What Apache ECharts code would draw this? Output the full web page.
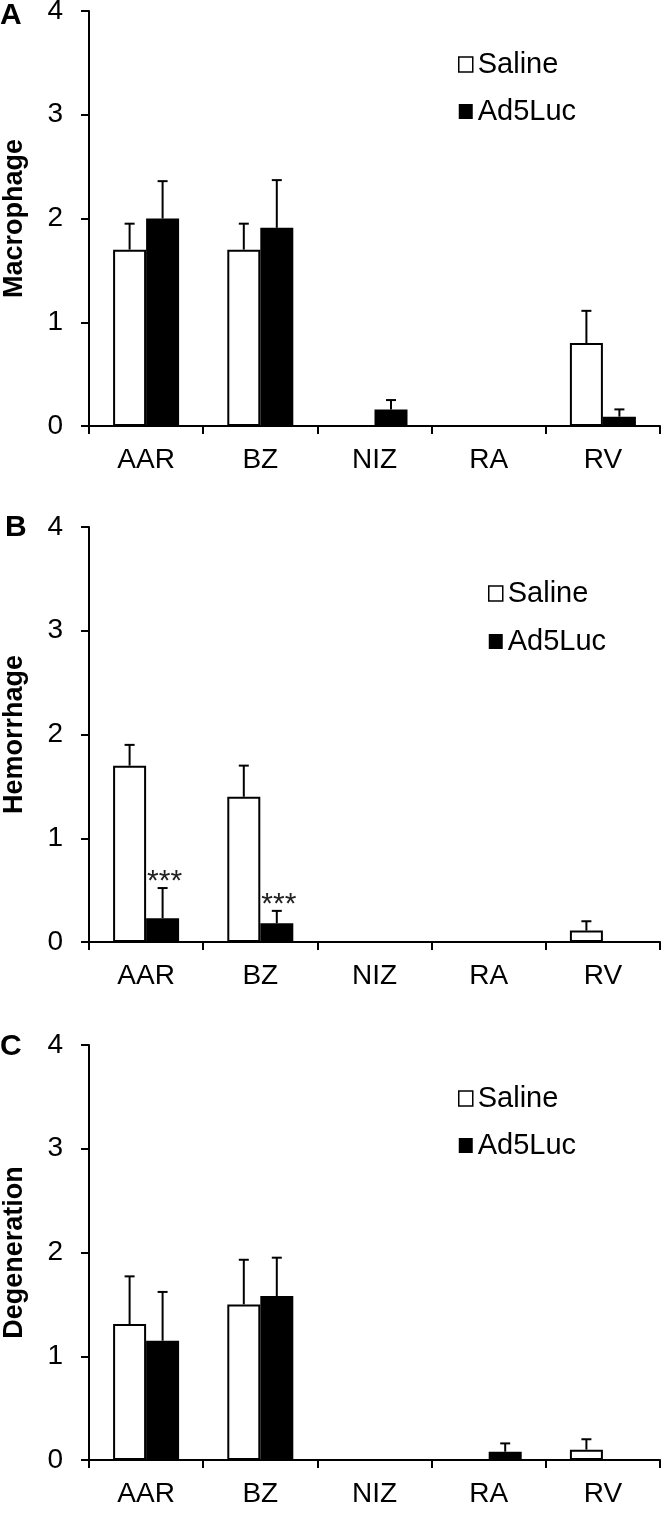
<!DOCTYPE html>
<html>
<head>
<meta charset="utf-8">
<script src="https://cdn.jsdelivr.net/npm/echarts@6/dist/echarts.min.js"></script>
<style>
  html, body { margin: 0; padding: 0; background: #fff; }
  #chart { width: 661px; height: 1513px; }
</style>
</head>
<body>
<div id="chart"></div>
<script>
// ---------- data ----------
const categories = ['AAR', 'BZ', 'NIZ', 'RA', 'RV'];
const seriesNames = ['Saline', 'Ad5Luc'];
const panelLetters = ['A', 'B', 'C'];
const panelTitles = ['Macrophage', 'Hemorrhage', 'Degeneration'];
const yTickValues = [0, 1, 2, 3, 4];

const macrophageSaline    = [1.70, 1.70, 0, 0, 0.80];
const macrophageSalineErr = [0.25, 0.25, 0, 0, 0.31];
const macrophageAd5       = [2.00, 1.91, 0.16, 0, 0.09];
const macrophageAd5Err    = [0.36, 0.46, 0.09, 0, 0.07];

const hemorrhageSaline    = [1.70, 1.40, 0, 0, 0.11];
const hemorrhageSalineErr = [0.20, 0.30, 0, 0, 0.09];
const hemorrhageAd5       = [0.23, 0.18, 0, 0, 0];
const hemorrhageAd5Err    = [0.29, 0.12, 0, 0, 0];
const hemorrhageAd5Sig    = ['***', '***', '', '', ''];

const degenerationSaline    = [1.31, 1.50, 0, 0, 0.10];
const degenerationSalineErr = [0.46, 0.43, 0, 0, 0.10];
const degenerationAd5       = [1.15, 1.58, 0, 0.08, 0];
const degenerationAd5Err    = [0.47, 0.37, 0, 0.08, 0];

const noSig = ['', '', '', '', ''];

// ---------- layout / style ----------
const FONT = '"Liberation Sans", Arial, Helvetica, sans-serif';
const BAR_W = 33;
const gridTops = [11, 527, 1045];
const GRID_H = 415;
const legendPos = [
  { left: 458, top: 50, gap: 18 },
  { left: 488, top: 579, gap: 19 },
  { left: 458, top: 1084, gap: 18 }
];
const titleTops = [1, 513, 1032];
const titleLefts = [0, 5, 0];

const panels = [
  { saline: macrophageSaline, salineErr: macrophageSalineErr, ad5: macrophageAd5, ad5Err: macrophageAd5Err, ad5Sig: noSig },
  { saline: hemorrhageSaline, salineErr: hemorrhageSalineErr, ad5: hemorrhageAd5, ad5Err: hemorrhageAd5Err, ad5Sig: hemorrhageAd5Sig },
  { saline: degenerationSaline, salineErr: degenerationSalineErr, ad5: degenerationAd5, ad5Err: degenerationAd5Err, ad5Sig: noSig }
];

function errRenderer(offset, sigArr) {
  return function (params, api) {
    const idx = api.value(0);
    const mean = api.value(1);
    const sd = api.value(2);
    const children = [];
    const p0 = api.coord([idx, mean]);
    const p1 = api.coord([idx, mean + sd]);
    const x = p0[0] + offset;
    if (sd > 0) {
      children.push({ type: 'line', shape: { x1: x, y1: p0[1], x2: x, y2: p1[1] },
        style: { stroke: '#000', lineWidth: 2 } });
      children.push({ type: 'line', shape: { x1: x - 5, y1: p1[1], x2: x + 5, y2: p1[1] },
        style: { stroke: '#000', lineWidth: 2 } });
    }
    const lab = sigArr[params.dataIndex];
    if (lab) {
      children.push({ type: 'text', x: x + 2, y: p1[1] - 6,
        style: { text: lab, fill: '#222', fontSize: 30, fontFamily: FONT,
          align: 'center', verticalAlign: 'middle' } });
    }
    return { type: 'group', children: children };
  };
}

const grid = [], xAxis = [], yAxis = [], series = [], legend = [], title = [];
panels.forEach((p, i) => {
  grid.push({ left: 89, right: 1, top: gridTops[i], height: GRID_H, containLabel: false, outerBoundsMode: 'none' });
  xAxis.push({
    type: 'category', gridIndex: i, data: categories, boundaryGap: true,
    axisLine: { show: true, lineStyle: { color: '#000', width: 2 } },
    axisTick: { show: true, length: 8, inside: false, alignWithLabel: false, lineStyle: { color: '#000', width: 2 } },
    axisLabel: { color: '#000', fontSize: 28, fontFamily: FONT, margin: 20 },
    splitLine: { show: false }
  });
  yAxis.push({
    type: 'value', gridIndex: i, min: yTickValues[0], max: yTickValues[yTickValues.length - 1], interval: 1,
    name: panelTitles[i], nameLocation: 'middle', nameGap: 61,
    nameTextStyle: { color: '#000', fontSize: 27, fontWeight: 'bold', fontFamily: FONT },
    axisLine: { show: true, lineStyle: { color: '#000', width: 2 } },
    axisTick: { show: true, length: 8, lineStyle: { color: '#000', width: 2 } },
    axisLabel: { color: '#000', fontSize: 28, fontFamily: FONT, margin: 26 },
    splitLine: { show: false }
  });
  series.push({
    name: seriesNames[0], type: 'bar', xAxisIndex: i, yAxisIndex: i, data: p.saline,
    barWidth: BAR_W, barGap: '0%',
    itemStyle: { color: '#fff', borderColor: '#000', borderWidth: 2 }
  });
  series.push({
    name: seriesNames[1], type: 'bar', xAxisIndex: i, yAxisIndex: i, data: p.ad5,
    barWidth: BAR_W, barGap: '0%',
    itemStyle: { color: '#000' }
  });
  series.push({
    name: 'err-saline', type: 'custom', xAxisIndex: i, yAxisIndex: i, z: 5,
    data: categories.map((c, j) => [j, p.saline[j], p.salineErr[j]]),
    encode: { x: 0, y: 1 },
    renderItem: errRenderer(-BAR_W / 2, noSig)
  });
  series.push({
    name: 'err-ad5', type: 'custom', xAxisIndex: i, yAxisIndex: i, z: 5,
    data: categories.map((c, j) => [j, p.ad5[j], p.ad5Err[j]]),
    encode: { x: 0, y: 1 },
    renderItem: errRenderer(BAR_W / 2, p.ad5Sig)
  });
  legend.push({
    orient: 'vertical', left: legendPos[i].left, top: legendPos[i].top, padding: 0,
    itemGap: legendPos[i].gap, itemWidth: 14, itemHeight: 15, selectedMode: false,
    textStyle: { color: '#000', fontSize: 29, fontFamily: FONT, lineHeight: 29 },
    data: [
      { name: seriesNames[0], icon: 'rect', itemStyle: { color: '#fff', borderColor: '#000', borderWidth: 1.5 } },
      { name: seriesNames[1], icon: 'rect', itemStyle: { color: '#000' } }
    ]
  });
  title.push({
    text: panelLetters[i], left: titleLefts[i], top: titleTops[i], padding: 0,
    textStyle: { color: '#000', fontSize: 30, fontWeight: 'bold', fontFamily: FONT, lineHeight: 30 }
  });
});

const chart = echarts.init(document.getElementById('chart'), null, { renderer: 'canvas' });
chart.setOption({
  backgroundColor: '#fff',
  animation: false,
  title: title,
  legend: legend,
  grid: grid,
  xAxis: xAxis,
  yAxis: yAxis,
  series: series
});
</script>
</body>
</html>
